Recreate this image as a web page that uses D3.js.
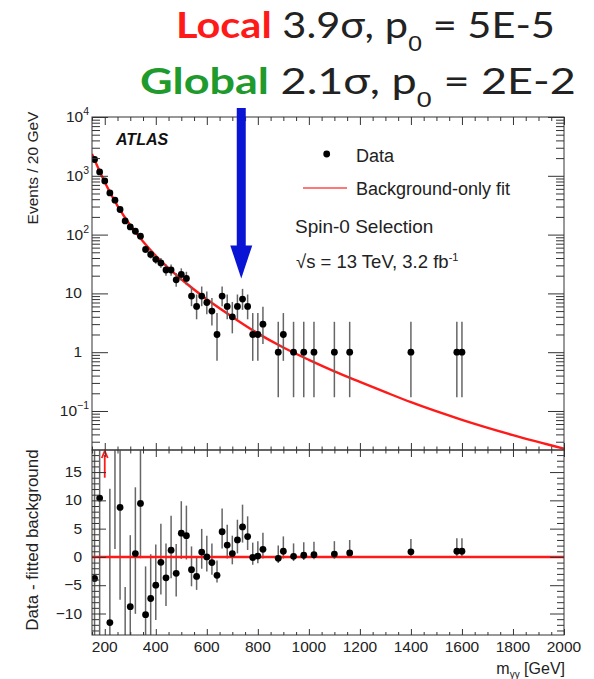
<!DOCTYPE html>
<html>
<head>
<meta charset="utf-8">
<script src="https://cdn.jsdelivr.net/npm/d3@7"></script>
<style>
  body { margin: 0; background: #fff; }
  svg { display: block; font-family: "Liberation Sans", Arial, sans-serif; }
</style>
</head>
<body>
<svg id="chart" width="594" height="679"></svg>
<script>
// ---- binned diphoton data (20 GeV bins, only non-empty bins) ----
const massBins = [160, 180, 200, 220, 240, 260, 280, 300, 320, 340, 360, 380, 400, 420, 440, 460,
                  480, 500, 520, 540, 560, 580, 600, 620, 640, 660, 680, 700, 720, 740, 760, 780,
                  800, 820, 880, 900, 940, 980, 1020, 1100, 1160, 1400, 1580, 1600];
const events = [1893, 1165, 819, 512, 385, 267, 171, 135, 114, 94, 56, 46, 38, 33, 25, 25,
                17, 21, 18, 9, 6, 9, 7, 5, 2, 9, 6, 4, 6, 8, 6, 2,
                2, 3, 1, 2, 1, 1, 1, 1, 1, 1, 1, 1];
// data minus fitted background, per bin
const residuals = [-3.8, 10.4, 28, -11.6, 21, 8.75, -19.4, -8.8, 0.6, 9.45, -10.2, -7.35, -5.0, -0.95, -3.7, 1.2,
                   -2.9, 4.2, 3.75, -2.25, -3.45, 0.85, 0.0, -1.0, -3.25, 4.45, 2.1, 0.6, 3.0, 5.3, 3.6, -0.1,
                   0.15, 1.35, -0.25, 1.0, 0.1, 0.3, 0.4, 0.5, 0.7, 0.9, 1.0, 1.0];
// bins whose difference lies above the lower panel, marked with an arrow
const arrowBins = [200];

// background-only fit, sampled along the mass axis
const fitMass   = [150, 200, 250, 300, 350, 400, 450, 500, 600, 700, 800, 900, 1000,
                   1100, 1200, 1300, 1400, 1600, 1800, 2000];
const fitEvents = [2340, 776, 309, 145, 76, 43.6, 26.9, 17.4, 7.94, 3.98, 2.09, 1.20, 0.741,
                   0.473, 0.313, 0.209, 0.141, 0.0708, 0.0389, 0.0229];

// axis ticks
const xTicks = [200, 400, 600, 800, 1000, 1200, 1400, 1600, 1800, 2000];
const logTicks = [0.1, 1, 10, 100, 1000, 10000];
const logTickBase = ["10", "1", "10", "10", "10", "10"];
const logTickExp  = ["−1", "", "", "2", "3", "4"];
const diffTicks = [-10, -5, 0, 5, 10, 15];

// excess location
const excessMass = 735;

// ---- layout ----
const svg = d3.select("#chart");
const L = 92, R = 564, T1 = 117, B1 = 450, T2 = 450, B2 = 635;

const x = d3.scaleLinear().domain([150, 2000]).range([L, R]);
const yTop = d3.scaleLog().domain([0.0217, 1e4]).range([B1, T1]);
const yBot = d3.scaleLinear().domain([-13.8, 18.9]).range([B2, T2]);

// Poisson 68% interval (Wilson–Hilferty form of the Garwood limits)
function poissonLo(n) {
  if (n <= 0) return 0;
  return n * Math.pow(1 - 1 / (9 * n) - 1 / (3 * Math.sqrt(n)), 3);
}
function poissonHi(n) {
  const m = n + 1;
  return m * Math.pow(1 - 1 / (9 * m) + 1 / (3 * Math.sqrt(m)), 3);
}

const bins = massBins.map((m, i) => ({
  m, n: events[i], d: residuals[i],
  lo: poissonLo(events[i]), hi: poissonHi(events[i]),
  arrow: arrowBins.includes(m)
}));

const defs = svg.append("defs");
defs.append("clipPath").attr("id", "clipTop")
  .append("rect").attr("x", L).attr("y", T1).attr("width", R - L).attr("height", B1 - T1);
defs.append("clipPath").attr("id", "clipBot")
  .append("rect").attr("x", L).attr("y", T2).attr("width", R - L).attr("height", B2 - T2);

const axisColor = "#333";

// minor tick values
const xMinor = d3.range(150, 2001, 50).filter(v => v % 200 !== 0);
const logMinor = [];
for (let e = -2; e <= 3; e++) for (let k = 2; k <= 9; k++) {
  const v = k * Math.pow(10, e);
  if (v >= 0.0217 && v <= 1e4) logMinor.push(v);
}
const diffMinor = d3.range(-13, 19, 1).filter(v => v % 5 !== 0);

function styleAxis(g) {
  g.select(".domain").remove();
  g.selectAll(".tick line").attr("stroke", axisColor).attr("stroke-width", 1);
  g.selectAll(".tick text").remove();
}
function ticks(axisFn, scale, values, size, tx, ty) {
  svg.append("g").attr("transform", `translate(${tx},${ty})`)
    .call(axisFn(scale).tickValues(values).tickSize(size).tickFormat(""))
    .call(styleAxis);
}

// ---- upper panel ----
const upper = svg.append("g");

// fit curve
const fitLine = d3.line()
  .x((d, i) => x(fitMass[i]))
  .y((d) => yTop(d))
  .curve(d3.curveMonotoneX);
upper.append("g").attr("clip-path", "url(#clipTop)")
  .append("path").datum(fitEvents)
  .attr("d", fitLine).attr("fill", "none")
  .attr("stroke", "#ff1a1a").attr("stroke-width", 2.4);

const upperData = upper.append("g").attr("clip-path", "url(#clipTop)");
upperData.selectAll("line.err").data(bins).join("line")
  .attr("class", "err")
  .attr("x1", d => x(d.m)).attr("x2", d => x(d.m))
  .attr("y1", d => yTop(Math.max(d.lo, 0.0217))).attr("y2", d => yTop(d.hi))
  .attr("stroke", "#666").attr("stroke-width", 1.5);
upperData.selectAll("circle").data(bins).join("circle")
  .attr("cx", d => x(d.m)).attr("cy", d => yTop(d.n)).attr("r", 3.4)
  .attr("fill", "#000");

// frame + ticks (upper)
upper.append("rect").attr("x", L).attr("y", T1).attr("width", R - L).attr("height", B1 - T1)
  .attr("fill", "none").attr("stroke", axisColor).attr("stroke-width", 1);
ticks(d3.axisRight, yTop, logTicks, 16, L, 0);
ticks(d3.axisRight, yTop, logMinor, 8, L, 0);
ticks(d3.axisLeft, yTop, logTicks, 16, R, 0);
ticks(d3.axisLeft, yTop, logMinor, 8, R, 0);
ticks(d3.axisBottom, x, xTicks, 8, 0, T1);
ticks(d3.axisBottom, x, xMinor, 4, 0, T1);
ticks(d3.axisTop, x, xTicks, 7, 0, B1);
ticks(d3.axisTop, x, xMinor, 3.5, 0, B1);

// log tick labels
logTicks.forEach((v, i) => {
  const t = svg.append("text")
    .attr("y", yTop(v) + 5)
    .attr("font-size", 15.5).attr("fill", "#222")
    .attr("text-anchor", "end");
  if (logTickExp[i]) {
    t.attr("x", 89);
    t.append("tspan").text(logTickBase[i]);
    t.append("tspan").attr("font-size", 10.5).attr("dy", -7).text(logTickExp[i]);
  } else {
    t.attr("x", 82).text(logTickBase[i]);
  }
});

svg.append("text")
  .attr("transform", `translate(38,168) rotate(-90)`)
  .attr("text-anchor", "middle").attr("font-size", 15.5).attr("fill", "#222")
  .text("Events / 20 GeV");

// ATLAS label and legend
svg.append("text").attr("x", 116).attr("y", 145)
  .attr("font-size", 16).attr("font-weight", "bold").attr("font-style", "italic")
  .attr("fill", "#111").text("ATLAS");

svg.append("circle").attr("cx", 326.7).attr("cy", 154).attr("r", 3.4).attr("fill", "#000");
svg.append("text").attr("x", 356).attr("y", 161.5).attr("font-size", 18).attr("fill", "#222").text("Data");
svg.append("line").attr("x1", 303).attr("x2", 347).attr("y1", 188).attr("y2", 188)
  .attr("stroke", "#ff4a4a").attr("stroke-width", 1.6);
svg.append("text").attr("x", 356).attr("y", 195).attr("font-size", 18).attr("fill", "#222")
  .text("Background-only fit");
svg.append("text").attr("x", 295).attr("y", 233).attr("font-size", 19).attr("fill", "#222")
  .text("Spin-0 Selection");
const lumi = svg.append("text").attr("x", 296).attr("y", 268).attr("font-size", 18.5).attr("fill", "#222");
lumi.append("tspan").text("√s = 13 TeV, 3.2 fb");
lumi.append("tspan").attr("font-size", 11).attr("dy", -7).text("-1");

// ---- lower panel ----
const lower = svg.append("g");
const lowerData = lower.append("g").attr("clip-path", "url(#clipBot)");
const shown = bins.filter(d => !d.arrow);
lowerData.selectAll("line.err").data(shown).join("line")
  .attr("class", "err")
  .attr("x1", d => x(d.m)).attr("x2", d => x(d.m))
  .attr("y1", d => yBot(d.d - (d.n - d.lo))).attr("y2", d => yBot(d.d + (d.hi - d.n)))
  .attr("stroke", "#666").attr("stroke-width", 1.5);
lowerData.append("line")
  .attr("x1", L).attr("x2", R).attr("y1", yBot(0)).attr("y2", yBot(0))
  .attr("stroke", "#ff1a1a").attr("stroke-width", 2.6);
lowerData.selectAll("circle").data(shown).join("circle")
  .attr("cx", d => x(d.m)).attr("cy", d => yBot(d.d)).attr("r", 3.4)
  .attr("fill", "#000");

// out-of-range arrows
bins.filter(d => d.arrow).forEach(d => {
  const ax = x(d.m), y0 = yBot(14), y1 = T2 + 1;
  lower.append("line").attr("x1", ax).attr("x2", ax).attr("y1", y0).attr("y2", y1 + 4)
    .attr("stroke", "#ff1a1a").attr("stroke-width", 1.8);
  lower.append("path")
    .attr("d", `M${ax - 3},${y1 + 7} L${ax},${y1} L${ax + 3},${y1 + 7}`)
    .attr("fill", "none").attr("stroke", "#ff1a1a").attr("stroke-width", 1.8);
});

lower.append("rect").attr("x", L).attr("y", T2).attr("width", R - L).attr("height", B2 - T2)
  .attr("fill", "none").attr("stroke", axisColor).attr("stroke-width", 1);
ticks(d3.axisRight, yBot, diffTicks, 14, L, 0);
ticks(d3.axisRight, yBot, diffMinor, 7, L, 0);
ticks(d3.axisLeft, yBot, diffTicks, 14, R, 0);
ticks(d3.axisLeft, yBot, diffMinor, 7, R, 0);
ticks(d3.axisBottom, x, xTicks, 7, 0, T2);
ticks(d3.axisBottom, x, xMinor, 3.5, 0, T2);
ticks(d3.axisTop, x, xTicks, 6, 0, B2);
ticks(d3.axisTop, x, xMinor, 3, 0, B2);

diffTicks.forEach(v => {
  svg.append("text").attr("x", 82).attr("y", yBot(v) + 5)
    .attr("text-anchor", "end").attr("font-size", 15.5).attr("fill", "#222")
    .text(v < 0 ? "−" + Math.abs(v) : String(v));
});
xTicks.forEach(v => {
  svg.append("text").attr("x", x(v)).attr("y", 652)
    .attr("text-anchor", "middle").attr("font-size", 15.5).attr("fill", "#222")
    .text(v);
});
svg.append("text")
  .attr("transform", `translate(38,540) rotate(-90)`)
  .attr("text-anchor", "middle").attr("font-size", 17).attr("fill", "#222")
  .text("Data - fitted background");

const xTitle = svg.append("text").attr("x", 565).attr("y", 674)
  .attr("text-anchor", "end").attr("font-size", 16).attr("fill", "#222");
xTitle.append("tspan").text("m");
xTitle.append("tspan").attr("font-size", 10).attr("dy", 4).text("γγ");
xTitle.append("tspan").attr("dy", -4).text(" [GeV]");

// ---- significance headline ----
function headline(y, x0, width, word, color, sigma, p0) {
  const t = svg.append("text").attr("font-family", "Lato, 'Open Sans', sans-serif")
    .attr("font-size", 36).attr("fill", "#222");
  t.append("tspan").attr("font-weight", "bold").attr("fill", color).text(word);
  t.append("tspan").text(" " + sigma + ", p");
  t.append("tspan").attr("font-size", 22).attr("dy", 13)
    .attr("font-family", "'Liberation Sans', Arial, sans-serif").text("0");
  t.append("tspan").attr("dy", -13).text(" = " + p0);
  const w = t.node().getComputedTextLength();
  t.attr("transform", `translate(${x0},${y}) scale(${width / w},1)`);
}
headline(38, 176, 379, "Local", "#ff1a1a", "3.9σ", "5E-5");
headline(94, 140, 436, "Global", "#1f9a2c", "2.1σ", "2E-2");

// ---- arrow pointing at the excess ----
const axc = x(excessMass);
const tipY = yTop(18), headY = tipY - 33;
svg.append("rect").attr("x", axc - 4.5).attr("y", 108).attr("width", 9).attr("height", headY - 108 + 1)
  .attr("fill", "#0a14d4");
svg.append("path")
  .attr("d", `M${axc - 11},${headY} L${axc + 11},${headY} L${axc},${tipY} Z`)
  .attr("fill", "#0a14d4");
</script>
</body>
</html>
